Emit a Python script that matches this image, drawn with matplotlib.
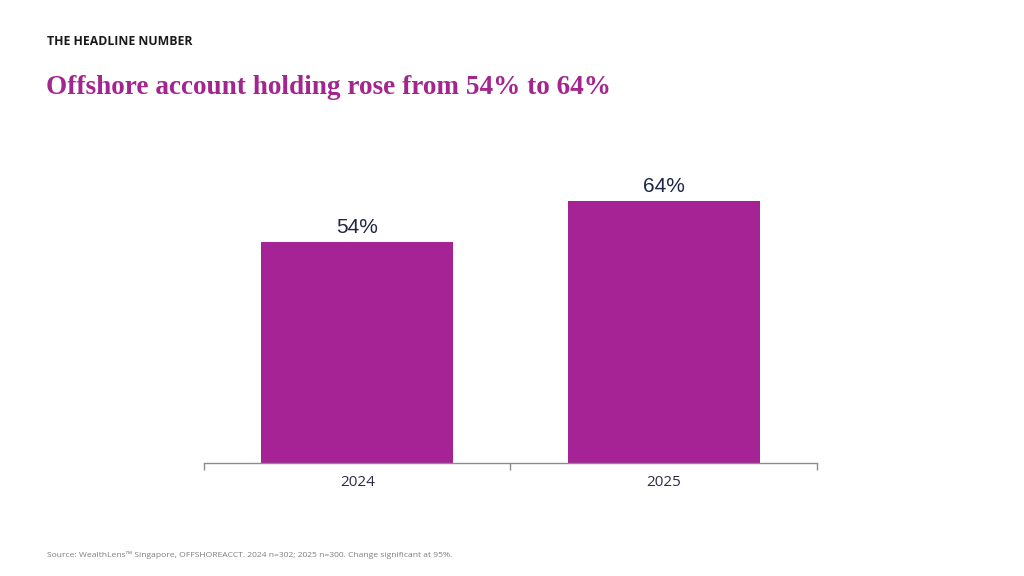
import matplotlib
matplotlib.use("Agg")
import matplotlib.pyplot as plt

# data
years = ["2024", "2025"]
share = [54, 64]
value_labels = ["54%", "64%"]

BAR_COLOR = "#A62395"
TITLE_COLOR = "#A3268F"
TEXT_DARK = "#1F2544"

fig = plt.figure(figsize=(10.24, 5.76), dpi=100)
ax = fig.add_axes([0.1992, 0.1962, 0.5986, 0.5694])

x = list(range(len(years)))
bars = ax.bar(x, share, width=0.626, color=BAR_COLOR)

for b, lab in zip(bars, value_labels):
    ax.text(b.get_x() + b.get_width() / 2, b.get_height() + 1.2, lab,
            ha="center", va="bottom", fontsize=15, color=TEXT_DARK,
            family="Liberation Sans")

ax.set_xlim(-0.5, len(years) - 0.5)
ax.set_ylim(0, 80)
ax.set_yticks([])
for s in ["top", "right", "left"]:
    ax.spines[s].set_visible(False)
ax.spines["bottom"].set_color("#8C8C8C")
ax.spines["bottom"].set_linewidth(1.0)

ax.set_xticks(x)
ax.set_xticklabels(years, fontsize=11, color="#2B2B45", family="Open Sans")
ax.tick_params(axis="x", which="major", length=0, pad=9)
ax.set_xticks([i - 0.5 for i in range(len(years) + 1)], minor=True)
ax.tick_params(axis="x", which="minor", length=5, color="#8C8C8C", width=1.0)

fig.text(0.046, 0.922, "THE HEADLINE NUMBER", fontsize=8.8, fontweight="bold",
         color="#1A1A1A", family="Open Sans")
fig.text(0.045, 0.836, "Offshore account holding rose from 54% to 64%",
         fontsize=19.6, fontweight="bold", color=TITLE_COLOR,
         family="Liberation Serif")
fig.text(0.046, 0.033,
         "Source: WealthLens\u2122 Singapore, OFFSHOREACCT. 2024 n=302; 2025 n=300. Change significant at 95%.",
         fontsize=6.1, color="#7F7F7F", family="Open Sans")

fig.savefig("out.png", dpi=100)
